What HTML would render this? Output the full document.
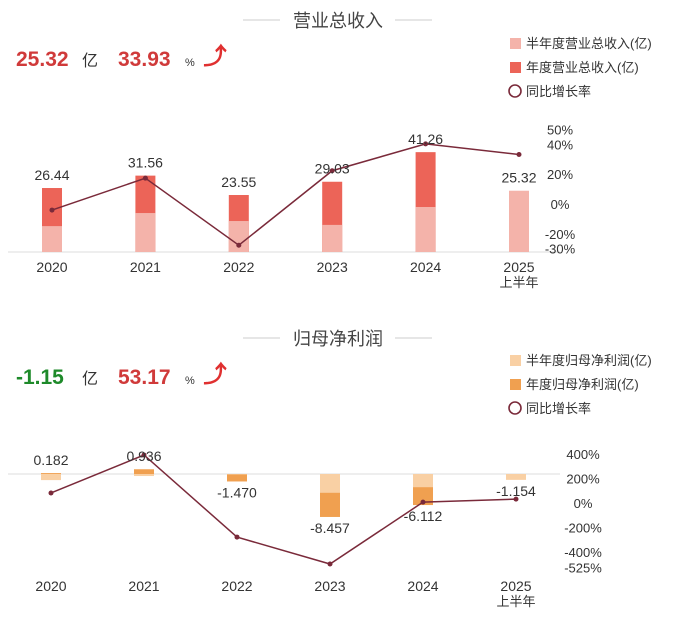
<!DOCTYPE html>
<html><head><meta charset="utf-8"><style>
body{margin:0;background:#fff;width:679px;height:634px;overflow:hidden;font-family:"Liberation Sans","Noto Sans CJK SC",sans-serif}
svg text{font-family:"Liberation Sans","Noto Sans CJK SC",sans-serif}
</style></head><body>
<svg id="s" width="679" height="634">
<g>
<line x1="243" y1="20" x2="280" y2="20" stroke="#ccc"/><line x1="395" y1="20" x2="432" y2="20" stroke="#ccc"/>
<text x="338" y="27" text-anchor="middle" font-size="18" fill="#444">营业总收入</text>
<text x="16" y="66" font-size="21" font-weight="bold" fill="#d03a3a">25.32</text>
<text x="82" y="66" font-size="16" fill="#333">亿</text>
<text x="118" y="66" font-size="21" font-weight="bold" fill="#d03a3a">33.93</text>
<text x="185" y="66" font-size="11" fill="#333">%</text>
<text x="203" y="64" font-size="24" font-weight="bold" fill="#e03030">⤴</text>
<rect x="510" y="38" width="11" height="11" fill="#f4b3aa"/><text x="526" y="48" font-size="13" fill="#333">半年度营业总收入(亿)</text>
<rect x="510" y="62" width="11" height="11" fill="#ec6458"/><text x="526" y="72" font-size="13" fill="#333">年度营业总收入(亿)</text>
<circle cx="515" cy="91" r="6" fill="none" stroke="#7a2a3a" stroke-width="1.6"/><text x="526" y="96" font-size="13" fill="#333">同比增长率</text>
</g>
<g>
<line x1="243" y1="338" x2="280" y2="338" stroke="#ccc"/><line x1="395" y1="338" x2="432" y2="338" stroke="#ccc"/>
<text x="338" y="345" text-anchor="middle" font-size="18" fill="#444">归母净利润</text>
<text x="16" y="384" font-size="21" font-weight="bold" fill="#1e8a2a">-1.15</text>
<text x="82" y="384" font-size="16" fill="#333">亿</text>
<text x="118" y="384" font-size="21" font-weight="bold" fill="#d03a3a">53.17</text>
<text x="185" y="384" font-size="11" fill="#333">%</text>
<text x="203" y="382" font-size="24" font-weight="bold" fill="#e03030">⤴</text>
<rect x="510" y="355" width="11" height="11" fill="#f9d0a4"/><text x="526" y="365" font-size="13" fill="#333">半年度归母净利润(亿)</text>
<rect x="510" y="379" width="11" height="11" fill="#f0a050"/><text x="526" y="389" font-size="13" fill="#333">年度归母净利润(亿)</text>
<circle cx="515" cy="408" r="6" fill="none" stroke="#7a2a3a" stroke-width="1.6"/><text x="526" y="413" font-size="13" fill="#333">同比增长率</text>
</g>
</svg>
<script>
const years=["2020","2021","2022","2023","2024","2025"];
const revAnnual=[26.44,31.56,23.55,29.03,41.26,null];
const revHalf=[10.7,16.1,12.8,11.2,18.6,25.32];
const revGrowth=[-3.4,18,-27,23,41,33.9];
const revTicks=[50,40,20,0,-20,-30];
const profAnnual=[0.182,0.936,-1.470,-8.457,-6.112,null];
const profHalf=[-1.2,-0.4,-0.1,-3.7,-2.6,-1.154];
const profGrowth=[90,400,-270,-490,15,40];
const profTicks=[400,200,0,-200,-400,-525];
const profLabels=["0.182","0.936","-1.470","-8.457","-6.112","-1.154"];
const svg=document.getElementById('s');const NS='http://www.w3.org/2000/svg';
function mk(t,a,txt){const e=document.createElementNS(NS,t);for(const k in a)e.setAttribute(k,a[k]);if(txt!=null)e.textContent=txt;svg.appendChild(e);return e;}
function draw(o){
 const x=i=>o.x0+i*o.dx;
 const yb=v=>o.base-v*o.bs; const yl=v=>o.z-v*o.ls;
 const ax=mk('line',{x1:8,y1:o.base,x2:560,y2:o.base,stroke:'#ddd'});
 
 
 o.ann.forEach((v,i)=>{if(v==null)return;
  const r=mk('rect',{x:x(i)-10,y:Math.min(yb(v),o.base),width:20,height:Math.abs(v*o.bs),fill:o.c2});
  
  });
 o.half.forEach((v,i)=>{
  const r=mk('rect',{x:x(i)-10,y:Math.min(yb(v),o.base),width:20,height:Math.abs(v*o.bs),fill:o.c1});
  
  });
 const pl=mk('polyline',{points:o.g.map((v,i)=>x(i)+','+yl(v)).join(' '),fill:'none',stroke:'#7a2a3a','stroke-width':1.5});
 
 
 o.g.forEach((v,i)=>{const c=mk('circle',{cx:x(i),cy:yl(v),r:2.5,fill:'#7a2a3a'});
  
  });
 o.ticks.forEach(t=>{const e=mk('text',{x:o.tx,y:yl(t)+4,'text-anchor':'middle','font-size':13,fill:'#333'},t+'%');
  
  });
 years.forEach((y,i)=>{const e=mk('text',{x:x(i),y:o.xl,'text-anchor':'middle','font-size':14,fill:'#333'},y);
  
  });
 const s=mk('text',{x:x(5),y:o.xl+15,'text-anchor':'middle','font-size':13,fill:'#333'},'上半年');
 
 
 o.labels.forEach((l,i)=>{const e=mk('text',{x:x(i),y:o.ly(i),'text-anchor':'middle','font-size':14,fill:'#333'},l);
  
  });
}
draw({p:'revenue',tx:560,x0:52,dx:93.4,base:252,bs:2.42,z:205,ls:1.49,ann:revAnnual,half:revHalf,g:revGrowth,ticks:revTicks,c1:'#f4b3aa',c2:'#ec6458',xl:272,
 labels:revAnnual.map((v,i)=>(v==null?revHalf[i]:v).toFixed(2)),
 ly:i=>252-(revAnnual[i]==null?revHalf[i]:revAnnual[i])*2.42-8});
draw({p:'profit',tx:583,x0:51,dx:93,base:474,bs:5.08,z:504,ls:0.1225,ann:profAnnual,half:profHalf,g:profGrowth,ticks:profTicks,c1:'#f9d0a4',c2:'#f0a050',xl:591,
 labels:profLabels,
 ly:i=>{const v=profAnnual[i]==null?profHalf[i]:profAnnual[i];return v>=0?474-v*5.08-8:474-v*5.08+16;}});
</script>
</body></html>
